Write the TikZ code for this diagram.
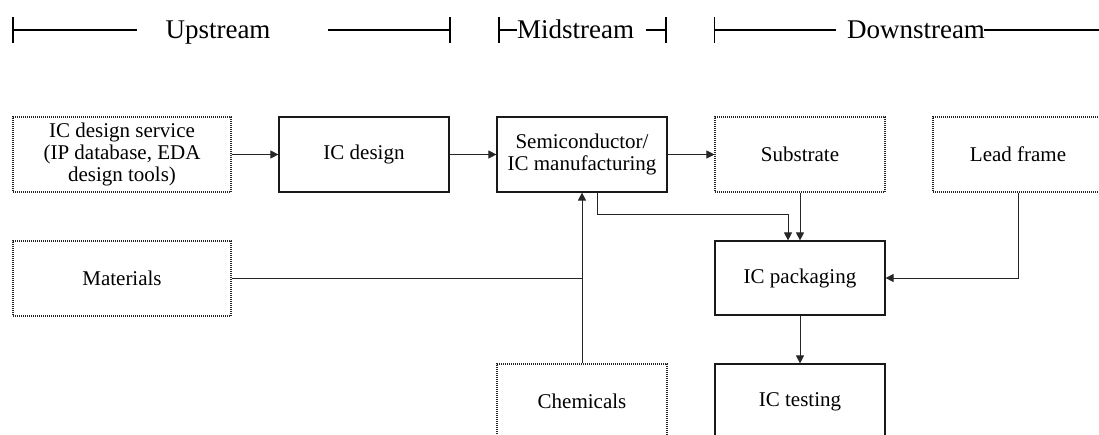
\documentclass[tikz,border=0pt]{standalone}
\usepackage{fontspec}
\setmainfont{Liberation Serif}
\usetikzlibrary{arrows.meta}
\newcommand{\boxfont}{\fontsize{21}{22}\selectfont}
\newcommand{\headfont}{\fontsize{27}{30}\selectfont}
\begin{document}
\begin{tikzpicture}[x=1pt,y=-1pt,
  solidbox/.style={draw=black!90, line width=1.2pt, minimum width=170pt, minimum height=75pt, inner sep=0pt, align=center, font=\boxfont},
  dotbox/.style={draw=black!85, line width=1.1pt, dash pattern=on 1pt off 1pt, minimum width=170pt, minimum height=75pt, inner sep=0pt, align=center, font=\boxfont},
  conn/.style={draw=black!85, line width=1pt},
  arr/.style={conn, -{Triangle[length=8pt,width=8pt]}},
  bar/.style={draw=black, line width=1.2pt},
  headtext/.style={font=\headfont, inner sep=0pt, anchor=base}
]
\useasboundingbox (0,0) rectangle (1099,434);
\clip (0,0) rectangle (1099,434);

% header
\node[headtext] (up) at (218,38) {Upstream};
\node[headtext] (mid) at (575.5,38) {Midstream};
\node[headtext] (down) at (916,38) {Downstream};
\draw[bar] (13,17) -- (13,43);
\draw[bar] (13,30) -- (137,30);
\draw[bar] (328,30) -- (450,30);
\draw[bar] (450,17) -- (450,43);
\draw[bar] (499,17) -- (499,43);
\draw[bar] (499,30) -- (517,30);
\draw[bar] (646,30) -- (666,30);
\draw[bar] (666,17) -- (666,43);
\draw[bar] (714.5,17) -- (714.5,43);
\draw[bar] (714.5,30) -- (836,30);
\draw[bar] (984,30) -- (1099,30);

% boxes
\node[dotbox, minimum width=218pt] (svc) at (122,154.5) {IC design service\\(IP database, EDA\\design tools)};
\node[solidbox] (design) at (364,154.5) {IC design};
\node[solidbox] (semi) at (582,154.5) {Semiconductor/\\IC manufacturing};
\node[dotbox] (sub) at (800,154.5) {Substrate};
\node[dotbox] (lead) at (1018,154.5) {Lead frame};
\node[dotbox, minimum width=218pt] (mat) at (122,278.5) {Materials};
\node[solidbox, minimum height=74pt] (pack) at (800,278) {IC packaging};
\node[dotbox] (chem) at (582,401.5) {Chemicals};
\node[solidbox] (test) at (800,401.5) {IC testing};

% connectors
\draw[arr] (svc.east) -- (design.west);
\draw[arr] (design.east) -- (semi.west);
\draw[arr] (semi.east) -- (sub.west);
\coordinate (bend) at ([xshift=-12pt,yshift=26pt]pack.north);
\draw[arr] ([xshift=15pt]semi.south) |- (bend) -- ([xshift=-12pt]pack.north);
\draw[arr] (sub.south) -- (pack.north);
\draw[arr] (lead.south) |- (pack.east);
\coordinate (join) at (semi.south |- mat.east);
\draw[conn] (mat.east) -- (join);
\draw[arr] (chem.north) -- (semi.south);
\draw[arr] (pack.south) -- (test.north);
\end{tikzpicture}
\end{document}
